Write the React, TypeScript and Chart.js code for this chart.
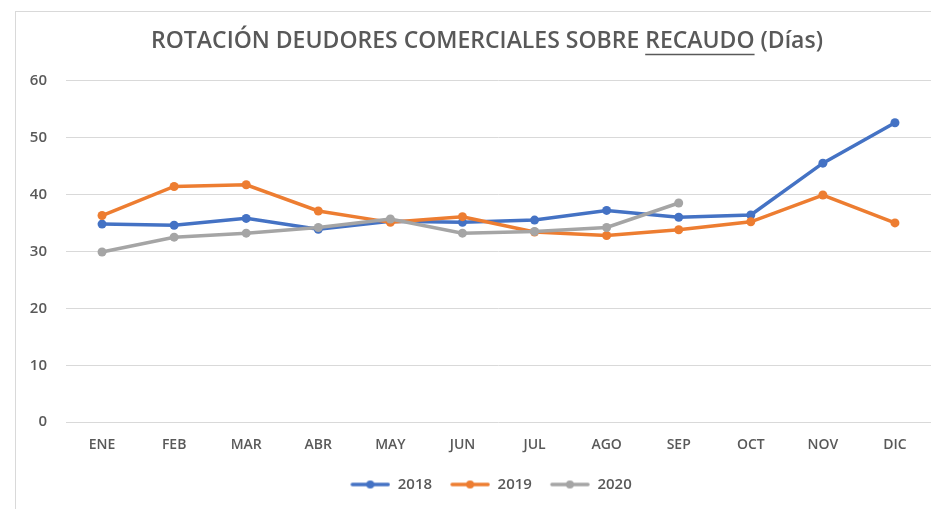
import React, { useEffect, useRef } from "react";
import { Chart, registerables } from "chart.js";

Chart.register(...registerables);

const months = ["ENE", "FEB", "MAR", "ABR", "MAY", "JUN", "JUL", "AGO", "SEP", "OCT", "NOV", "DIC"];
const values2018 = [34.8, 34.6, 35.8, 33.9, 35.3, 35.1, 35.5, 37.2, 36.0, 36.4, 45.5, 52.6];
const values2019 = [36.3, 41.4, 41.7, 37.1, 35.1, 36.1, 33.4, 32.8, 33.8, 35.2, 39.9, 35.0];
const values2020 = [29.9, 32.5, 33.2, 34.2, 35.7, 33.2, 33.5, 34.2, 38.5];
const seriesNames = ["2018", "2019", "2020"];
const colors = ["#4472C4", "#ED7D31", "#A5A5A5"];
const titlePre = "ROTACIÓN DEUDORES COMERCIALES SOBRE ";
const titleUnder = "RECAUDO";
const titlePost = " (Días)";
const yTicks = [0, 10, 20, 30, 40, 50, 60];

const TEXT = "#595959";
const GRID = "#D9D9D9";
const TITLE_FONT = { family: "'Open Sans', sans-serif", size: 23, weight: "600" as const };
const CENTER_X = 487;

function legendIcon(color: string): HTMLCanvasElement {
  const c = document.createElement("canvas");
  c.width = 48;
  c.height = 10;
  const ctx = c.getContext("2d")!;
  ctx.strokeStyle = color;
  ctx.lineWidth = 3.5;
  ctx.lineCap = "round";
  ctx.beginPath();
  ctx.moveTo(10, 5);
  ctx.lineTo(46, 5);
  ctx.stroke();
  ctx.fillStyle = color;
  ctx.beginPath();
  ctx.arc(28, 5, 4, 0, Math.PI * 2);
  ctx.fill();
  return c;
}

const frame = {
  id: "frame",
  beforeDraw(chart: any) {
    const ctx = chart.ctx;
    ctx.save();
    ctx.fillStyle = "#fff";
    ctx.fillRect(0, 0, chart.width, chart.height);
    ctx.strokeStyle = GRID;
    ctx.lineWidth = 1;
    ctx.strokeRect(15.5, 11.5, chart.width + 20, chart.height + 20);
    ctx.restore();
    // re-centre title and legend on the reference's centre line
    const w = chart.width;
    for (const box of [chart.titleBlock, chart.legend]) {
      if (!box) continue;
      box.right = w;
      box.left = 2 * CENTER_X - w;
    }
  },
  afterDraw(chart: any) {
    const tb = chart.titleBlock;
    if (!tb) return;
    const ctx = chart.ctx;
    ctx.save();
    ctx.font = `${TITLE_FONT.weight} ${TITLE_FONT.size}px ${TITLE_FONT.family}`;
    const full = titlePre + titleUnder + titlePost;
    const total = ctx.measureText(full).width;
    const center = (tb.left + tb.right) / 2;
    const startX = center - total / 2;
    const x0 = startX + ctx.measureText(titlePre).width;
    const x1 = x0 + ctx.measureText(titleUnder).width;
    const cy = tb.top + tb.options.padding.top + (TITLE_FONT.size * 1.2) / 2;
    const y = cy + TITLE_FONT.size * 0.55;
    ctx.strokeStyle = TEXT;
    ctx.lineWidth = 1.5;
    ctx.beginPath();
    ctx.moveTo(x0, y);
    ctx.lineTo(x1, y);
    ctx.stroke();
    ctx.restore();
  },
};

export default function App() {
  const ref = useRef<HTMLCanvasElement>(null);
  useEffect(() => {
    document.body.style.margin = "0";
    const series = [values2018, values2019, values2020];
    const chart = new Chart(ref.current!, {
      type: "line",
      data: {
        labels: months,
        datasets: series.map((d, i) => ({
          label: seriesNames[i],
          data: d,
          borderColor: colors[i],
          backgroundColor: colors[i],
          borderWidth: 3.5,
          pointRadius: 4.5,
          pointBorderWidth: 0,
          pointBackgroundColor: colors[i],
          tension: 0,
          order: 2 - i,
          pointStyle: "circle",
          clip: false,
        })),
      },
      options: {
        responsive: false,
        animation: false,
        layout: { autoPadding: false, padding: { left: 0, right: 0, top: 0, bottom: 7 } },
        plugins: {
          title: {
            display: true,
            text: titlePre + titleUnder + titlePost,
            color: TEXT,
            font: TITLE_FONT,
            padding: { top: 28, bottom: 25 },
          },
          legend: {
            position: "bottom",
            labels: {
              color: TEXT,
              font: { family: "'Open Sans', sans-serif", size: 15, weight: "600" },
              usePointStyle: true,
              pointStyleWidth: 48,
              padding: 10,
              generateLabels: (ch: any) =>
                ch.data.datasets.map((ds: any, i: number) => ({
                  text: ds.label,
                  pointStyle: legendIcon(colors[i]),
                  fillStyle: colors[i],
                  strokeStyle: colors[i],
                  lineWidth: 0,
                  fontColor: TEXT,
                  hidden: false,
                  datasetIndex: i,
                })),
            },
          },
          tooltip: { enabled: false },
        },
        scales: {
          x: {
            offset: true,
            afterFit: (s: any) => {
              s.paddingLeft = 0;
              s.paddingRight = 0;
            },
            grid: { display: false, drawTicks: false },
            border: { display: false },
            ticks: {
              color: TEXT,
              font: { family: "'Open Sans', sans-serif", size: 14, weight: "600" },
              padding: 14,
              maxRotation: 0,
            },
          },
          y: {
            min: 0,
            max: 60,
            afterBuildTicks: (s: any) => {
              s.ticks = yTicks.map((v) => ({ value: v }));
            },
            afterFit: (s: any) => {
              s.width = 66;
            },
            grid: { color: GRID, lineWidth: 1, drawTicks: false },
            border: { display: false },
            ticks: {
              color: TEXT,
              font: { family: "'Open Sans', sans-serif", size: 15, weight: "600" },
              padding: 19,
            },
          },
        },
      },
      plugins: [frame],
    } as any);
    return () => chart.destroy();
  }, []);
  return (
    <div style={{ width: 931, height: 509 }}>
      <canvas ref={ref} width={931} height={509} style={{ display: "block" }} />
    </div>
  );
}
